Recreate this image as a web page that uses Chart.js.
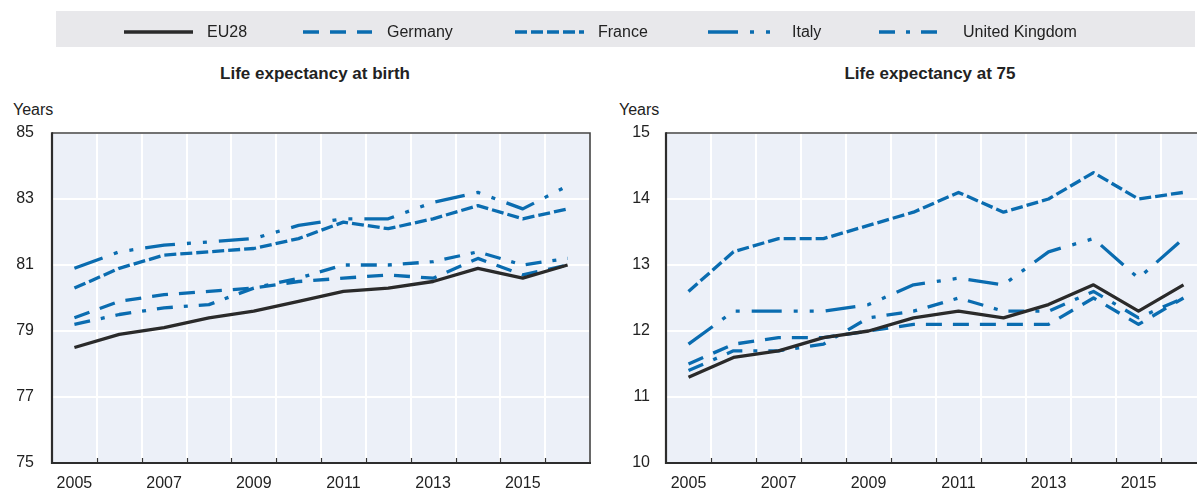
<!DOCTYPE html>
<html>
<head>
<meta charset="utf-8">
<script src="https://cdn.jsdelivr.net/npm/chart.js@4/dist/chart.umd.min.js"></script>
<style>
  html, body { margin:0; padding:0; background:#fff; }
  body { position:relative; width:1197px; height:491px; overflow:hidden; font-family:"Liberation Sans", Arial, sans-serif; color:#222; }
  .abs { position:absolute; }
  #legend { left:56px; top:11px; width:1139px; height:36px; background:#e8e8eb; }
  .lt { font-size:16px; line-height:20px; top:22px; white-space:nowrap; color:#222; }
  .title { font-weight:bold; font-size:17px; width:400px; text-align:center; top:64px; line-height:20px; }
  .ylab { font-size:16px; top:100px; line-height:20px; }
</style>
</head>
<body>
<div id="legend" class="abs"></div>
<svg id="legsvg" class="abs" style="left:0;top:0" width="1197" height="60"></svg>
<div class="abs title" style="left:115px">Life expectancy at birth</div>
<div class="abs title" style="left:730px">Life expectancy at 75</div>
<div class="abs ylab" style="left:13px">Years</div>
<div class="abs ylab" style="left:619px">Years</div>
<div class="abs" style="left:0;top:0;width:600px;height:491px"><canvas id="c1" width="600" height="491"></canvas></div>
<div class="abs" style="left:600px;top:0;width:616px;height:491px"><canvas id="c2" width="616" height="491"></canvas></div>
<script>
// ---------- data ----------
const years = ['2005','2006','2007','2008','2009','2010','2011','2012','2013','2014','2015','2016'];
const seriesNames = ['EU28','Germany','France','Italy','United Kingdom'];

const birthEU28    = [78.5, 78.9, 79.1, 79.4, 79.6, 79.9, 80.2, 80.3, 80.5, 80.9, 80.6, 81.0];
const birthGermany = [79.4, 79.9, 80.1, 80.2, 80.3, 80.5, 80.6, 80.7, 80.6, 81.2, 80.7, 81.0];
const birthFrance  = [80.3, 80.9, 81.3, 81.4, 81.5, 81.8, 82.3, 82.1, 82.4, 82.8, 82.4, 82.7];
const birthItaly   = [80.9, 81.4, 81.6, 81.7, 81.8, 82.2, 82.4, 82.4, 82.9, 83.2, 82.7, 83.4];
const birthUK      = [79.2, 79.5, 79.7, 79.8, 80.3, 80.6, 81.0, 81.0, 81.1, 81.4, 81.0, 81.2];

const at75EU28     = [11.3, 11.6, 11.7, 11.9, 12.0, 12.2, 12.3, 12.2, 12.4, 12.7, 12.3, 12.7];
const at75Germany  = [11.5, 11.8, 11.9, 11.9, 12.0, 12.1, 12.1, 12.1, 12.1, 12.5, 12.1, 12.5];
const at75France   = [12.6, 13.2, 13.4, 13.4, 13.6, 13.8, 14.1, 13.8, 14.0, 14.4, 14.0, 14.1];
const at75Italy    = [11.8, 12.3, 12.3, 12.3, 12.4, 12.7, 12.8, 12.7, 13.2, 13.4, 12.8, 13.4];
const at75UK       = [11.4, 11.7, 11.7, 11.8, 12.2, 12.3, 12.5, 12.3, 12.3, 12.6, 12.2, 12.5];

const birthTicks = [75, 77, 79, 81, 83, 85];
const at75Ticks  = [10, 11, 12, 13, 14, 15];

// ---------- styles ----------
const BLUE = '#0a6cb0', BLACK = '#2a2a2a';
const styles = [
  { color: BLACK, dash: [] },
  { color: BLUE,  dash: [16, 11] },
  { color: BLUE,  dash: [12, 4] },
  { color: BLUE,  dash: [30, 12, 4, 12, 4, 12] },
  { color: BLUE,  dash: [16, 11, 4, 11] }
];

// ---------- legend ----------
const legPos = [[124,193,207],[303,372,387],[515,584,598],[708,772,792],[879,940,963]];
const svg = document.getElementById('legsvg');
seriesNames.forEach((n, i) => {
  const [x1, x2, tx] = legPos[i];
  const l = document.createElementNS('http://www.w3.org/2000/svg', 'line');
  l.setAttribute('x1', x1); l.setAttribute('x2', x2);
  l.setAttribute('y1', 32); l.setAttribute('y2', 32);
  l.setAttribute('stroke', styles[i].color);
  l.setAttribute('stroke-width', 3.5);
  if (styles[i].dash.length) l.setAttribute('stroke-dasharray', styles[i].dash.join(' '));
  svg.appendChild(l);
  const d = document.createElement('div');
  d.className = 'abs lt';
  d.style.left = tx + 'px';
  d.textContent = n;
  document.body.appendChild(d);
});

// ---------- plugin: background, frame, inner ticks ----------
const framePlugin = {
  id: 'frame',
  beforeDraw(chart) {
    const { ctx, chartArea: a } = chart;
    ctx.save();
    ctx.fillStyle = '#ecf0f8';
    ctx.fillRect(a.left, a.top, a.right - a.left, a.bottom - a.top);
    ctx.restore();
  },
  afterDraw(chart) {
    const { ctx, chartArea: a } = chart;
    const xs = chart.scales.x;
    const n = xs.ticks.length;
    const step = (xs.right - xs.left) / n;
    ctx.save();
    ctx.strokeStyle = '#333';
    ctx.lineWidth = 1.2;
    for (let i = 1; i < n; i++) {
      const x = Math.round(xs.left + i * step) + 0.5;
      ctx.beginPath(); ctx.moveTo(x, a.bottom); ctx.lineTo(x, a.bottom - 5); ctx.stroke();
    }
    ctx.strokeStyle = '#444';
    ctx.lineWidth = 1.6;
    ctx.beginPath(); ctx.moveTo(a.left, a.top); ctx.lineTo(a.right, a.top); ctx.lineTo(a.right, a.bottom); ctx.stroke();
    ctx.strokeStyle = '#2d2d2d';
    ctx.lineWidth = 2.2;
    ctx.beginPath(); ctx.moveTo(a.left, a.top - 0.8); ctx.lineTo(a.left, a.bottom); ctx.lineTo(a.right + 1, a.bottom); ctx.stroke();
    ctx.restore();
  }
};

function makeChart(id, data, ticks, yWidth, tickPad) {
  const datasets = data.map((d, i) => ({
    label: seriesNames[i],
    data: d,
    borderColor: styles[i].color,
    borderDash: styles[i].dash,
    borderWidth: 3.3,
    borderCapStyle: 'butt',
    borderJoinStyle: 'round',
    pointRadius: 0,
    tension: 0,
    fill: false
  }));
  return new Chart(document.getElementById(id), {
    type: 'line',
    data: { labels: years, datasets },
    plugins: [framePlugin],
    options: {
      responsive: false,
      animation: false,
      devicePixelRatio: 1,
      layout: { padding: { top: 133, right: 10, left: 0, bottom: 0 } },
      plugins: { legend: { display: false }, tooltip: { enabled: false }, title: { display: false } },
      scales: {
        x: {
          type: 'category',
          offset: true,
          grid: { offset: true, color: '#ffffff', lineWidth: 2, drawTicks: false },
          border: { display: false },
          ticks: {
            autoSkip: false, maxRotation: 0, padding: 11,
            color: '#222', font: { family: '"Liberation Sans", Arial, sans-serif', size: 16 },
            callback: (v, i) => (i % 2 === 0 ? years[i] : '')
          },
          afterFit: s => { s.height = 28; }
        },
        y: {
          min: ticks[0], max: ticks[ticks.length - 1],
          afterBuildTicks: s => { s.ticks = ticks.map(v => ({ value: v })); },
          grid: { color: '#ffffff', lineWidth: 2, drawTicks: false },
          border: { display: false },
          ticks: {
            padding: tickPad, color: '#222',
            font: { family: '"Liberation Sans", Arial, sans-serif', size: 16 }
          },
          afterFit: s => { s.width = yWidth; }
        }
      }
    }
  });
}

makeChart('c1', [birthEU28, birthGermany, birthFrance, birthItaly, birthUK], birthTicks, 52, 18);
makeChart('c2', [at75EU28, at75Germany, at75France, at75Italy, at75UK], at75Ticks, 66, 16);
</script>
</body>
</html>
